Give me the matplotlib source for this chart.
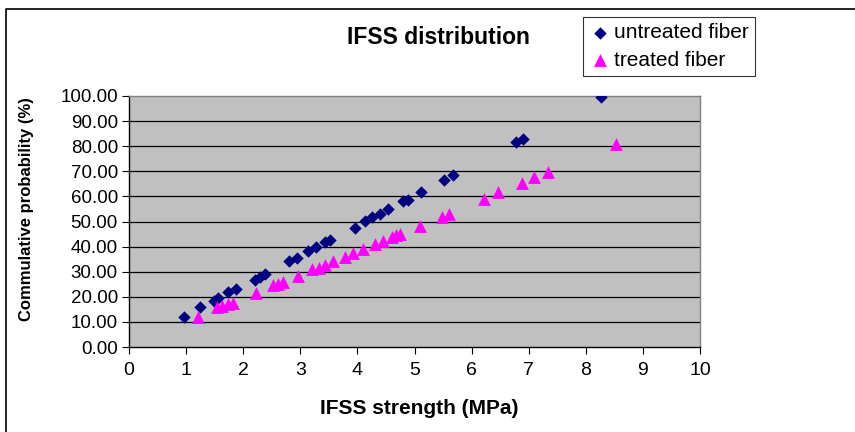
import matplotlib
matplotlib.use("Agg")
import matplotlib.pyplot as plt
from matplotlib.lines import Line2D

plt.rcParams["font.family"] = ["Liberation Sans", "DejaVu Sans"]

# Dados
untreated_x = [0.97, 1.25, 1.48, 1.56, 1.74, 1.88, 2.20, 2.30, 2.38, 2.81, 2.94,
               3.14, 3.28, 3.44, 3.52, 3.95, 4.13, 4.25, 4.40, 4.53, 4.79, 4.89,
               5.12, 5.52, 5.68, 6.77, 6.90, 8.27]
untreated_y = [11.8, 15.8, 18.4, 19.7, 21.9, 23.3, 26.6, 27.8, 29.2, 34.3, 35.5,
               38.2, 39.8, 41.7, 42.5, 47.6, 50.1, 51.7, 52.8, 54.8, 58.1, 58.7,
               61.9, 66.7, 68.5, 81.7, 82.9, 99.5]

treated_x = [1.21, 1.54, 1.63, 1.74, 1.83, 2.22, 2.52, 2.61, 2.70, 2.96, 3.20,
             3.32, 3.43, 3.58, 3.78, 3.92, 4.10, 4.31, 4.45, 4.60, 4.67, 4.74,
             5.09, 5.49, 5.60, 6.22, 6.47, 6.89, 7.10, 7.33, 8.53]
treated_y = [11.8, 15.9, 16.3, 17.1, 17.7, 21.4, 24.6, 25.2, 25.8, 28.3, 31.0,
             31.6, 32.5, 34.2, 36.0, 37.3, 39.2, 41.1, 42.2, 43.9, 44.6, 45.2,
             48.1, 51.9, 53.1, 59.0, 61.6, 65.4, 67.6, 69.7, 80.9]

x_ticks = list(range(0, 11))
y_ticks = list(range(0, 101, 10))

fig = plt.figure(figsize=(8.55, 4.32), dpi=100)
ax = fig.add_axes([129 / 855, 1 - 347 / 432, 571 / 855, 251 / 432])
ax.set_facecolor("#C0C0C0")

# Linhas de grade horizontais
for yv in y_ticks[1:-1]:
    ax.axhline(yv, color="black", lw=0.9, zorder=1)

ax.scatter(untreated_x, untreated_y, marker="D", s=40, color="#000080",
           linewidths=0, zorder=3, label="untreated fiber")
ax.scatter(treated_x, treated_y, marker="^", s=85, color="#FF00FF",
           linewidths=0, zorder=3, label="treated fiber")

ax.set_xlim(0, 10)
ax.set_ylim(0, 100)
ax.set_xticks(x_ticks)
ax.set_yticks(y_ticks)
ax.set_yticklabels([f"{v:.2f}" for v in y_ticks])
ax.tick_params(axis="y", direction="out", length=5, width=0.8, labelsize=13.5, pad=3)
ax.tick_params(axis="x", direction="out", length=5, width=0.8, labelsize=14, pad=6)

ax.spines["left"].set_color("black")
ax.spines["bottom"].set_color("black")
ax.spines["top"].set_color("#808080")
ax.spines["right"].set_color("#808080")
for s in ax.spines.values():
    s.set_linewidth(1.0)

# Título e rótulos
fig.text(438 / 855, 1 - 37 / 432, "IFSS distribution", ha="center", va="center",
         fontsize=16.5, fontweight="bold")
fig.text(419 / 855, 1 - 408 / 432, "IFSS strength (MPa)", ha="center", va="center",
         fontsize=15, fontweight="bold")
fig.text(27 / 855, 1 - 209 / 432, "Commulative probability (%)", ha="center",
         va="center", rotation=90, fontsize=12, fontweight="bold")

# Legenda
leg = fig.legend(loc="upper left", bbox_to_anchor=(583 / 855, 1 - 17 / 432),
                 frameon=True, fancybox=False, fontsize=15, handletextpad=0.2,
                 handlelength=1.0, borderpad=0.3, labelspacing=0.4,
                 borderaxespad=0, scatterpoints=1)
leg.get_frame().set_edgecolor("black")
leg.get_frame().set_linewidth(0.8)

# Moldura do gráfico
fig.add_artist(Line2D([6 / 855, 6 / 855, 1.0], [0.0, 1 - 9 / 432, 1 - 9 / 432],
                      transform=fig.transFigure, color="black", lw=1.2))

fig.savefig("out.png", dpi=100)
plt.close(fig)
